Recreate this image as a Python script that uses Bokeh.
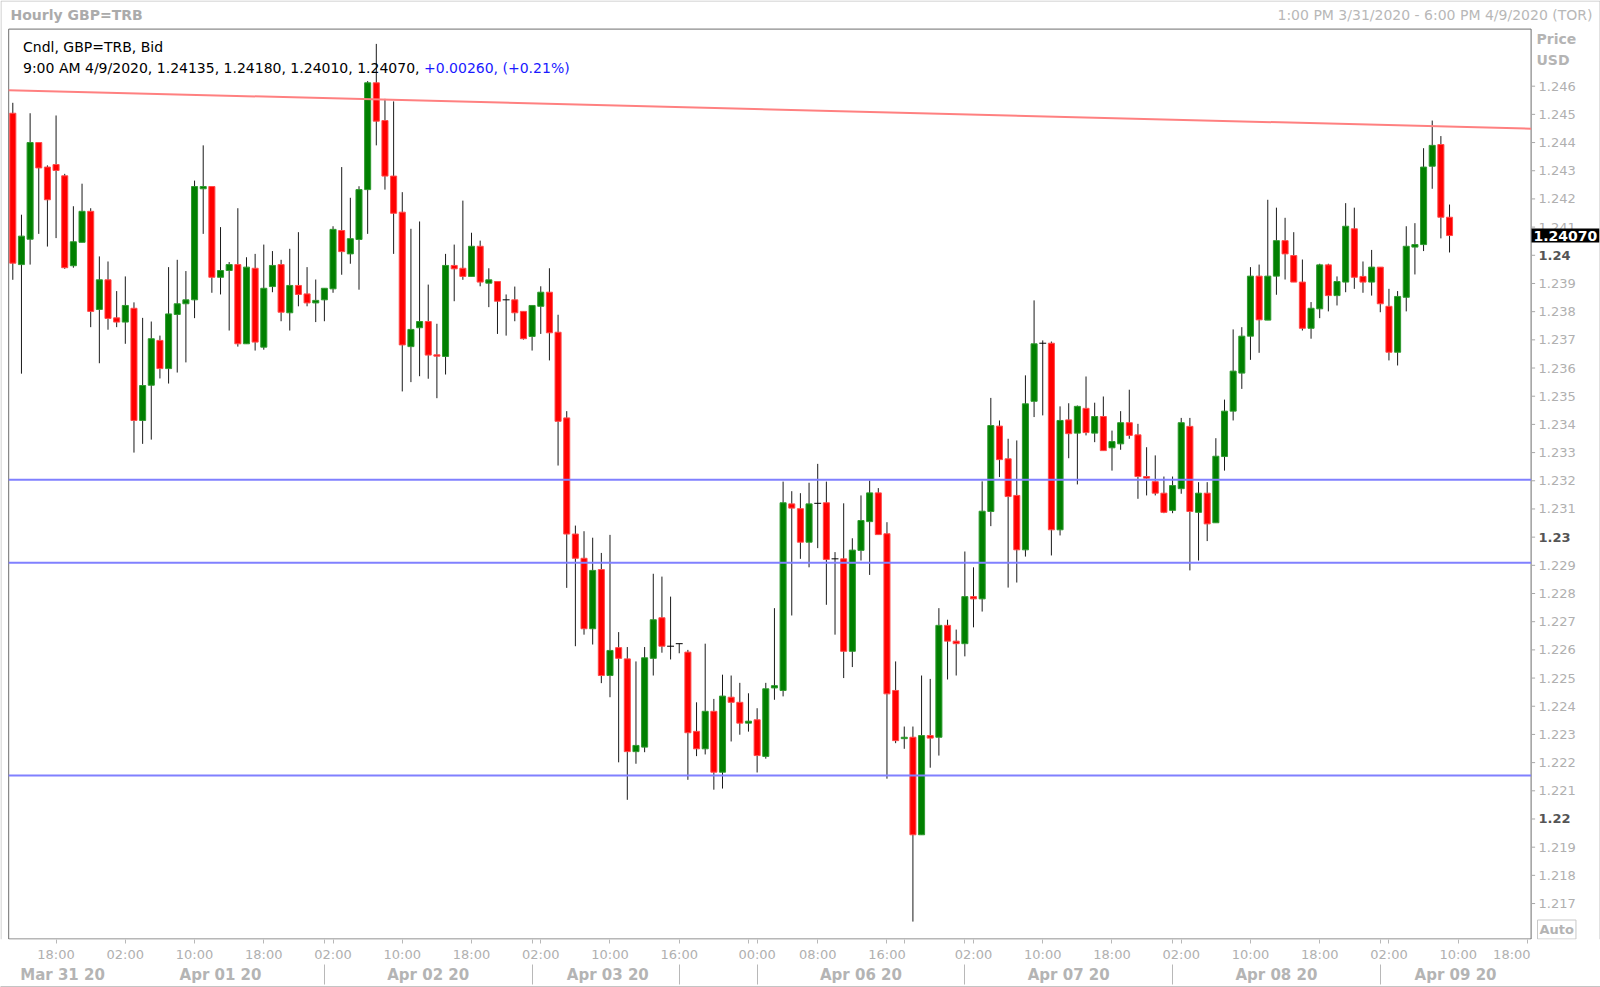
from bokeh.plotting import figure
from bokeh.models import (ColumnDataSource, LinearAxis, FixedTicker, Label, Range1d)
from bokeh.core.properties import value
from bokeh.embed import file_html
from bokeh.resources import INLINE

# ---------------- data ----------------
opens = [1.24504, 1.23967, 1.24057, 1.24400, 1.24313, 1.24322, 1.24282, 1.23963, 1.24046, 1.24156,
         1.23808, 1.23913, 1.23778, 1.23763, 1.23812, 1.23414, 1.23539, 1.23698, 1.23598, 1.23790,
         1.23828, 1.23842, 1.24236, 1.24244, 1.23922, 1.23946, 1.23967, 1.23686, 1.23954, 1.23674,
         1.23889, 1.23967, 1.23796, 1.23893, 1.23863, 1.23831, 1.23842, 1.23881, 1.24088, 1.24005,
         1.24056, 1.24233, 1.24612, 1.24478, 1.24281, 1.24153, 1.23676, 1.23743, 1.23765, 1.23647,
         1.23641, 1.23964, 1.23954, 1.23925, 1.24032, 1.23901, 1.23907, 1.23842, 1.23842, 1.23801,
         1.23712, 1.23819, 1.23869, 1.23727, 1.23423, 1.23011, 1.22925, 1.22675, 1.22885, 1.22509,
         1.22608, 1.22568, 1.22239, 1.22255, 1.22570, 1.22714, 1.22613, 1.22622, 1.22592, 1.22311,
         1.22249, 1.22382, 1.22166, 1.22432, 1.22414, 1.22340, 1.22352, 1.22222, 1.22465, 1.22456,
         1.23118, 1.23101, 1.22982, 1.23120, 1.23122, 1.22923, 1.22923, 1.22595, 1.22953, 1.23055,
         1.23157, 1.23012, 1.22456, 1.22285, 1.22290, 1.21944, 1.22296, 1.22290, 1.22687, 1.22631,
         1.22622, 1.22789, 1.22781, 1.23091, 1.23394, 1.23278, 1.23148, 1.22955, 1.23482, 1.23688,
         1.23688, 1.23026, 1.23416, 1.23369, 1.23457, 1.23369, 1.23428, 1.23317, 1.23331, 1.23406,
         1.23363, 1.23215, 1.23197, 1.23156, 1.23095, 1.23172, 1.23393, 1.23088, 1.23156, 1.23051,
         1.23286, 1.23447, 1.23582, 1.23713, 1.23926, 1.23770, 1.23926, 1.24052, 1.23999, 1.23905,
         1.23741, 1.23810, 1.23966, 1.23857, 1.23905, 1.24094, 1.23925, 1.23905, 1.23958, 1.23819,
         1.23656, 1.23851, 1.24029, 1.24038, 1.24316, 1.24393, 1.24135]
highs = [1.24541, 1.24144, 1.24504, 1.24400, 1.24319, 1.24496, 1.24289, 1.24174, 1.24254, 1.24167,
         1.23996, 1.23978, 1.23873, 1.23925, 1.23833, 1.23778, 1.23765, 1.23715, 1.23958, 1.23984,
         1.23944, 1.24265, 1.24390, 1.24244, 1.24100, 1.23976, 1.24167, 1.23993, 1.24005, 1.24038,
         1.24015, 1.23984, 1.24023, 1.24082, 1.23958, 1.23914, 1.23883, 1.24103, 1.24313, 1.24204,
         1.24245, 1.24618, 1.24750, 1.24555, 1.24546, 1.24224, 1.24094, 1.24120, 1.23896, 1.23757,
         1.24005, 1.24038, 1.24194, 1.24080, 1.24052, 1.23954, 1.23907, 1.23861, 1.23889, 1.23801,
         1.23822, 1.23890, 1.23954, 1.23789, 1.23447, 1.23041, 1.23021, 1.22998, 1.22944, 1.23008,
         1.22663, 1.22610, 1.22559, 1.22610, 1.22870, 1.22860, 1.22789, 1.22622, 1.22600, 1.22414,
         1.22622, 1.22426, 1.22512, 1.22509, 1.22483, 1.22446, 1.22393, 1.22483, 1.22748, 1.23197,
         1.23163, 1.23156, 1.23193, 1.23260, 1.23197, 1.22947, 1.23120, 1.22996, 1.23148, 1.23201,
         1.23174, 1.23053, 1.22559, 1.22328, 1.22328, 1.22509, 1.22497, 1.22748, 1.22707, 1.22672,
         1.22949, 1.22893, 1.23198, 1.23494, 1.23414, 1.23349, 1.23343, 1.23574, 1.23840, 1.23698,
         1.23694, 1.23464, 1.23475, 1.23467, 1.23570, 1.23477, 1.23499, 1.23378, 1.23447, 1.23523,
         1.23402, 1.23319, 1.23290, 1.23215, 1.23215, 1.23423, 1.23423, 1.23195, 1.23195, 1.23351,
         1.23488, 1.23737, 1.23745, 1.23958, 1.23967, 1.24197, 1.24169, 1.24133, 1.24082, 1.23985,
         1.23834, 1.23970, 1.23970, 1.23925, 1.24185, 1.24169, 1.23978, 1.24019, 1.23958, 1.23881,
         1.23873, 1.24103, 1.24114, 1.24380, 1.24478, 1.24423, 1.24180]
lows = [1.23913, 1.23580, 1.23967, 1.24076, 1.24031, 1.24061, 1.23952, 1.23956, 1.24046, 1.23745,
        1.23617, 1.23736, 1.23745, 1.23686, 1.23300, 1.23331, 1.23346, 1.23563, 1.23545, 1.23584,
        1.23620, 1.23777, 1.24076, 1.23867, 1.23861, 1.23733, 1.23676, 1.23686, 1.23662, 1.23665,
        1.23869, 1.23766, 1.23733, 1.23819, 1.23819, 1.23763, 1.23766, 1.23867, 1.23931, 1.23970,
        1.23878, 1.24076, 1.24390, 1.24233, 1.24005, 1.23517, 1.23550, 1.23571, 1.23562, 1.23493,
        1.23577, 1.23837, 1.23913, 1.23925, 1.23890, 1.23816, 1.23721, 1.23715, 1.23766, 1.23701,
        1.23662, 1.23721, 1.23627, 1.23254, 1.22820, 1.22613, 1.22654, 1.22619, 1.22482, 1.22432,
        1.22201, 1.22068, 1.22196, 1.22237, 1.22509, 1.22590, 1.22566, 1.22588, 1.22139, 1.22223,
        1.22229, 1.22104, 1.22108, 1.22275, 1.22299, 1.22310, 1.22165, 1.22214, 1.22423, 1.22435,
        1.22722, 1.22923, 1.22893, 1.22961, 1.22760, 1.22654, 1.22500, 1.22539, 1.22917, 1.22866,
        1.23009, 1.22143, 1.22269, 1.22249, 1.21636, 1.21944, 1.22182, 1.22225, 1.22495, 1.22509,
        1.22577, 1.22680, 1.22736, 1.23039, 1.23213, 1.22821, 1.22839, 1.22931, 1.23426, 1.23432,
        1.22935, 1.23006, 1.23280, 1.23187, 1.23361, 1.23337, 1.23307, 1.23236, 1.23310, 1.23349,
        1.23136, 1.23148, 1.23148, 1.23085, 1.23085, 1.23154, 1.22882, 1.22917, 1.22986, 1.23051,
        1.23236, 1.23414, 1.23526, 1.23629, 1.23654, 1.23770, 1.23860, 1.23914, 1.23905, 1.23733,
        1.23704, 1.23777, 1.23801, 1.23822, 1.23869, 1.23881, 1.23867, 1.23857, 1.23798, 1.23627,
        1.23609, 1.23801, 1.23932, 1.24015, 1.24236, 1.24060, 1.24010]
closes = [1.23972, 1.24068, 1.24400, 1.24310, 1.24197, 1.24301, 1.23956, 1.24048, 1.24156, 1.23801,
          1.23913, 1.23776, 1.23763, 1.23822, 1.23414, 1.23538, 1.23704, 1.23598, 1.23792, 1.23828,
          1.23842, 1.24244, 1.24244, 1.23922, 1.23946, 1.23967, 1.23686, 1.23958, 1.23692, 1.23883,
          1.23964, 1.23798, 1.23893, 1.23861, 1.23831, 1.23840, 1.23883, 1.24092, 1.24013, 1.24059,
          1.24233, 1.24612, 1.24476, 1.24281, 1.24149, 1.23682, 1.23737, 1.23765, 1.23646, 1.23642,
          1.23964, 1.23952, 1.23925, 1.24032, 1.23905, 1.23913, 1.23837, 1.23842, 1.23796, 1.23704,
          1.23822, 1.23869, 1.23725, 1.23411, 1.23011, 1.22925, 1.22675, 1.22882, 1.22509, 1.22598,
          1.22570, 1.22239, 1.22261, 1.22572, 1.22707, 1.22613, 1.22613, 1.22622, 1.22306, 1.22249,
          1.22382, 1.22166, 1.22436, 1.22414, 1.22340, 1.22347, 1.22225, 1.22462, 1.22473, 1.23122,
          1.23103, 1.22982, 1.23118, 1.23120, 1.22921, 1.22923, 1.22595, 1.22954, 1.23059, 1.23157,
          1.23009, 1.22444, 1.22278, 1.22290, 1.21944, 1.22296, 1.22287, 1.22687, 1.22631, 1.22622,
          1.22789, 1.22781, 1.23092, 1.23396, 1.23275, 1.23144, 1.22955, 1.23473, 1.23686, 1.23688,
          1.23026, 1.23414, 1.23367, 1.23464, 1.23371, 1.23428, 1.23307, 1.23339, 1.23406, 1.23361,
          1.23215, 1.23209, 1.23156, 1.23088, 1.23183, 1.23406, 1.23091, 1.23156, 1.23047, 1.23287,
          1.23447, 1.23589, 1.23713, 1.23926, 1.23771, 1.23926, 1.24052, 1.24005, 1.23905, 1.23741,
          1.23812, 1.23966, 1.23857, 1.23907, 1.24103, 1.23922, 1.23905, 1.23958, 1.23828, 1.23656,
          1.23854, 1.24032, 1.24038, 1.24313, 1.24390, 1.24135, 1.24070]

time_tick_pos = [5, 13, 21, 29, 37, 45, 53, 61, 69, 77, 86, 93, 101, 111, 119, 127, 135, 143, 151, 159, 167, 175]
time_tick_labels = ["18:00", "02:00", "10:00", "18:00", "02:00", "10:00", "18:00", "02:00", "10:00", "16:00",
                    "00:00", "08:00", "16:00", "02:00", "10:00", "18:00", "02:00", "10:00", "18:00", "02:00",
                    "10:00", "18:00"]
time_extra_marks = [36, 60, 85, 103, 110, 134, 158]
date_pos = [5.75, 24, 48, 68.75, 98, 122, 146, 166.7]
date_labels = ["Mar 31 20", "Apr 01 20", "Apr 02 20", "Apr 03 20", "Apr 06 20", "Apr 07 20", "Apr 08 20", "Apr 09 20"]
day_breaks = [36, 60, 77, 86, 110, 134, 158]

price_ticks = [1.217, 1.218, 1.219, 1.220, 1.221, 1.222, 1.223, 1.224, 1.225, 1.226,
               1.227, 1.228, 1.229, 1.230, 1.231, 1.232, 1.233, 1.234, 1.235, 1.236,
               1.237, 1.238, 1.239, 1.240, 1.241, 1.242, 1.243, 1.244, 1.245, 1.246]
price_labels = ["1.217", "1.218", "1.219", "1.22", "1.221", "1.222", "1.223", "1.224", "1.225", "1.226",
                "1.227", "1.228", "1.229", "1.23", "1.231", "1.232", "1.233", "1.234", "1.235", "1.236",
                "1.237", "1.238", "1.239", "1.24", "1.241", "1.242", "1.243", "1.244", "1.245", "1.246"]
bold_prices = [1.220, 1.230, 1.240]

support_levels = [1.23204, 1.22909, 1.22154]
trend_start = 1.24586
trend_end = 1.24449

last_close = 1.24070

FONT = "DejaVu Sans"
GRAY = "#B0B0B0"

# ---------------- geometry helpers (page pixel -> data) ----------------
def ix(page_x):
    return (page_x - 12.3) / 8.655

def py(page_y):
    return 1.24904 - 0.00003548 * page_y

W, H, FRAME_H = 1600, 987, 939
X0, X1 = ix(0), ix(W)
Y0, Y1 = py(FRAME_H), py(0)
PL, PR, PT, PB = ix(8.2), ix(1530.6), py(28.6), py(938.5)

p = figure(frame_width=W, frame_height=FRAME_H,
           x_range=Range1d(X0, X1), y_range=Range1d(Y0, Y1),
           output_backend="svg", toolbar_location=None,
           x_axis_location=None, y_axis_location=None,
           min_border_left=0, min_border_right=0, min_border_top=0, min_border_bottom=H - FRAME_H)
p.grid.visible = False
p.outline_line_color = None
p.background_fill_color = "white"
p.border_fill_color = "white"

# outer light border and plot-area border
p.multi_line(xs=[[ix(0.5), ix(0.5)], [ix(0.5), ix(1599.5)], [ix(1599.5), ix(1599.5)]],
             ys=[[Y0, py(0.5)], [py(0.5), py(0.5)], [py(0.5), Y0]],
             line_color="#C4C4C4", line_width=1)
p.multi_line(xs=[[PL, PR, PR, PL, PL]], ys=[[PT, PT, PB, PB, PT]], line_color="#6E6E6E", line_width=1)

# ---------------- candles ----------------
xs = list(range(len(opens)))
up_x, up_t, up_b = [], [], []
dn_x, dn_t, dn_b = [], [], []
dj_x, dj_y = [], []
for i, (o, c) in enumerate(zip(opens, closes)):
    if c > o:
        up_x.append(i); up_t.append(c); up_b.append(o)
    elif c < o:
        dn_x.append(i); dn_t.append(o); dn_b.append(c)
    else:
        dj_x.append(i); dj_y.append(o)

p.segment(x0=xs, y0=highs, x1=xs, y1=lows, line_color="#1a1a1a", line_width=1)
p.vbar(x=up_x, top=up_t, bottom=up_b, width=0.7, fill_color="#008000", line_color="#2f9a2f", line_width=1)
p.vbar(x=dn_x, top=dn_t, bottom=dn_b, width=0.7, fill_color="#FF0000", line_color="#ff4a4a", line_width=1)
p.segment(x0=[x - 0.4 for x in dj_x], x1=[x + 0.4 for x in dj_x], y0=dj_y, y1=dj_y,
          line_color="black", line_width=1)

# ---------------- drawing tools ----------------
p.line([PL, PR], [trend_start, trend_end], line_color="#FF8080", line_width=2)
for lv in support_levels:
    p.line([PL, PR], [lv, lv], line_color="#8080FF", line_width=2)

# ---------------- right price scale ----------------
n = len(price_ticks)
p.segment(x0=[PR] * n, x1=[ix(1534.6)] * n, y0=price_ticks, y1=price_ticks, line_color="#A8A8A8", line_width=1)
norm_t = [t for t in price_ticks if t not in bold_prices]
norm_l = [l for t, l in zip(price_ticks, price_labels) if t not in bold_prices]
bold_l = [l for t, l in zip(price_ticks, price_labels) if t in bold_prices]
p.text(x=[ix(1538)] * len(norm_t), y=norm_t, text=norm_l, text_font=value(FONT), text_font_size="13px",
       text_color=GRAY, text_baseline="middle", text_align="left")
p.text(x=[ix(1538)] * len(bold_prices), y=bold_prices, text=bold_l, text_font=value(FONT), text_font_size="13px",
       text_font_style="bold", text_color="#555555", text_baseline="middle", text_align="left")
p.text(x=[ix(1536)] * 2, y=[py(38), py(59.5)], text=["Price", "USD"], text_font=value(FONT),
       text_font_size="14px", text_font_style="bold", text_color="#B4B4B4", text_baseline="middle")

p.add_layout(Label(x=ix(1531), y=last_close, text="1.24070", text_font=FONT, text_font_size="14px",
                   text_font_style="bold", text_color="white", background_fill_color="black",
                   text_baseline="middle", padding=2))
p.add_layout(Label(x=ix(1537), y=py(929), text="Auto", text_font=FONT, text_font_size="13px",
                   text_font_style="bold", text_color="#B4B4B4", text_baseline="middle",
                   border_line_color="#C8C8C8", padding=2))

# ---------------- title row & legend ----------------
p.text(x=[ix(10)], y=[py(14.5)], text=["Hourly GBP=TRB"], text_font=value(FONT), text_font_size="14px",
       text_font_style="bold", text_color="#ABABAB", text_baseline="middle")
p.text(x=[ix(1592)], y=[py(14.5)], text=["1:00 PM 3/31/2020 - 6:00 PM 4/9/2020 (TOR)"], text_font=value(FONT),
       text_font_size="14px", text_color="#B8B8B8", text_baseline="middle", text_align="right")
p.text(x=[ix(22.5)], y=[py(46)], text=["Cndl, GBP=TRB, Bid"], text_font=value(FONT),
       text_font_size="14px", text_color="black", text_baseline="middle")
p.text(x=[ix(22.5)], y=[py(67.5)], text=["9:00 AM 4/9/2020, 1.24135, 1.24180, 1.24010, 1.24070, "],
       text_font=value(FONT), text_font_size="14px", text_color="black", text_baseline="middle")
p.text(x=[ix(423.5)], y=[py(67.5)], text=["+0.00260, (+0.21%)"],
       text_font=value(FONT), text_font_size="14px", text_color="#1a1aff", text_baseline="middle")

# ---------------- bottom time axis ----------------
label_pos = time_tick_pos[:-1] + [173.2]
xax = LinearAxis(ticker=FixedTicker(ticks=label_pos, minor_ticks=time_tick_pos + time_extra_marks),
                 major_label_overrides={t: l for t, l in zip(label_pos, time_tick_labels)})
xax.axis_line_color = None
xax.major_tick_out = 0
xax.major_tick_in = 0
xax.minor_tick_out = 4
xax.minor_tick_in = 0
xax.minor_tick_line_color = "#B8B8B8"
xax.major_label_standoff = 3
xax.major_label_text_color = GRAY
xax.major_label_text_font = FONT
xax.major_label_text_font_size = "13px"
p.add_layout(xax, "below")

# ---------------- bottom date axis ----------------
dax = LinearAxis(ticker=FixedTicker(ticks=date_pos, minor_ticks=day_breaks),
                 major_label_overrides={t: l for t, l in zip(date_pos, date_labels)})
dax.axis_line_color = None
dax.major_tick_out = 0
dax.major_tick_in = 0
dax.minor_tick_out = 20
dax.minor_tick_in = 0
dax.minor_tick_line_color = "#B8B8B8"
dax.major_label_standoff = -19
dax.major_label_text_color = "#B4B4B4"
dax.major_label_text_font = FONT
dax.major_label_text_font_style = "bold"
dax.major_label_text_font_size = "15px"
p.add_layout(dax, "below")

# ---------------- bottom outer border line ----------------
bax = LinearAxis(ticker=FixedTicker(ticks=[]))
bax.axis_line_color = "#C4C4C4"
bax.major_tick_out = 0
bax.major_tick_in = 0
bax.minor_tick_out = 0
bax.minor_tick_in = 0
bax.major_label_standoff = 0
p.add_layout(bax, "below")

open("out.html", "w").write(file_html(p, INLINE))
